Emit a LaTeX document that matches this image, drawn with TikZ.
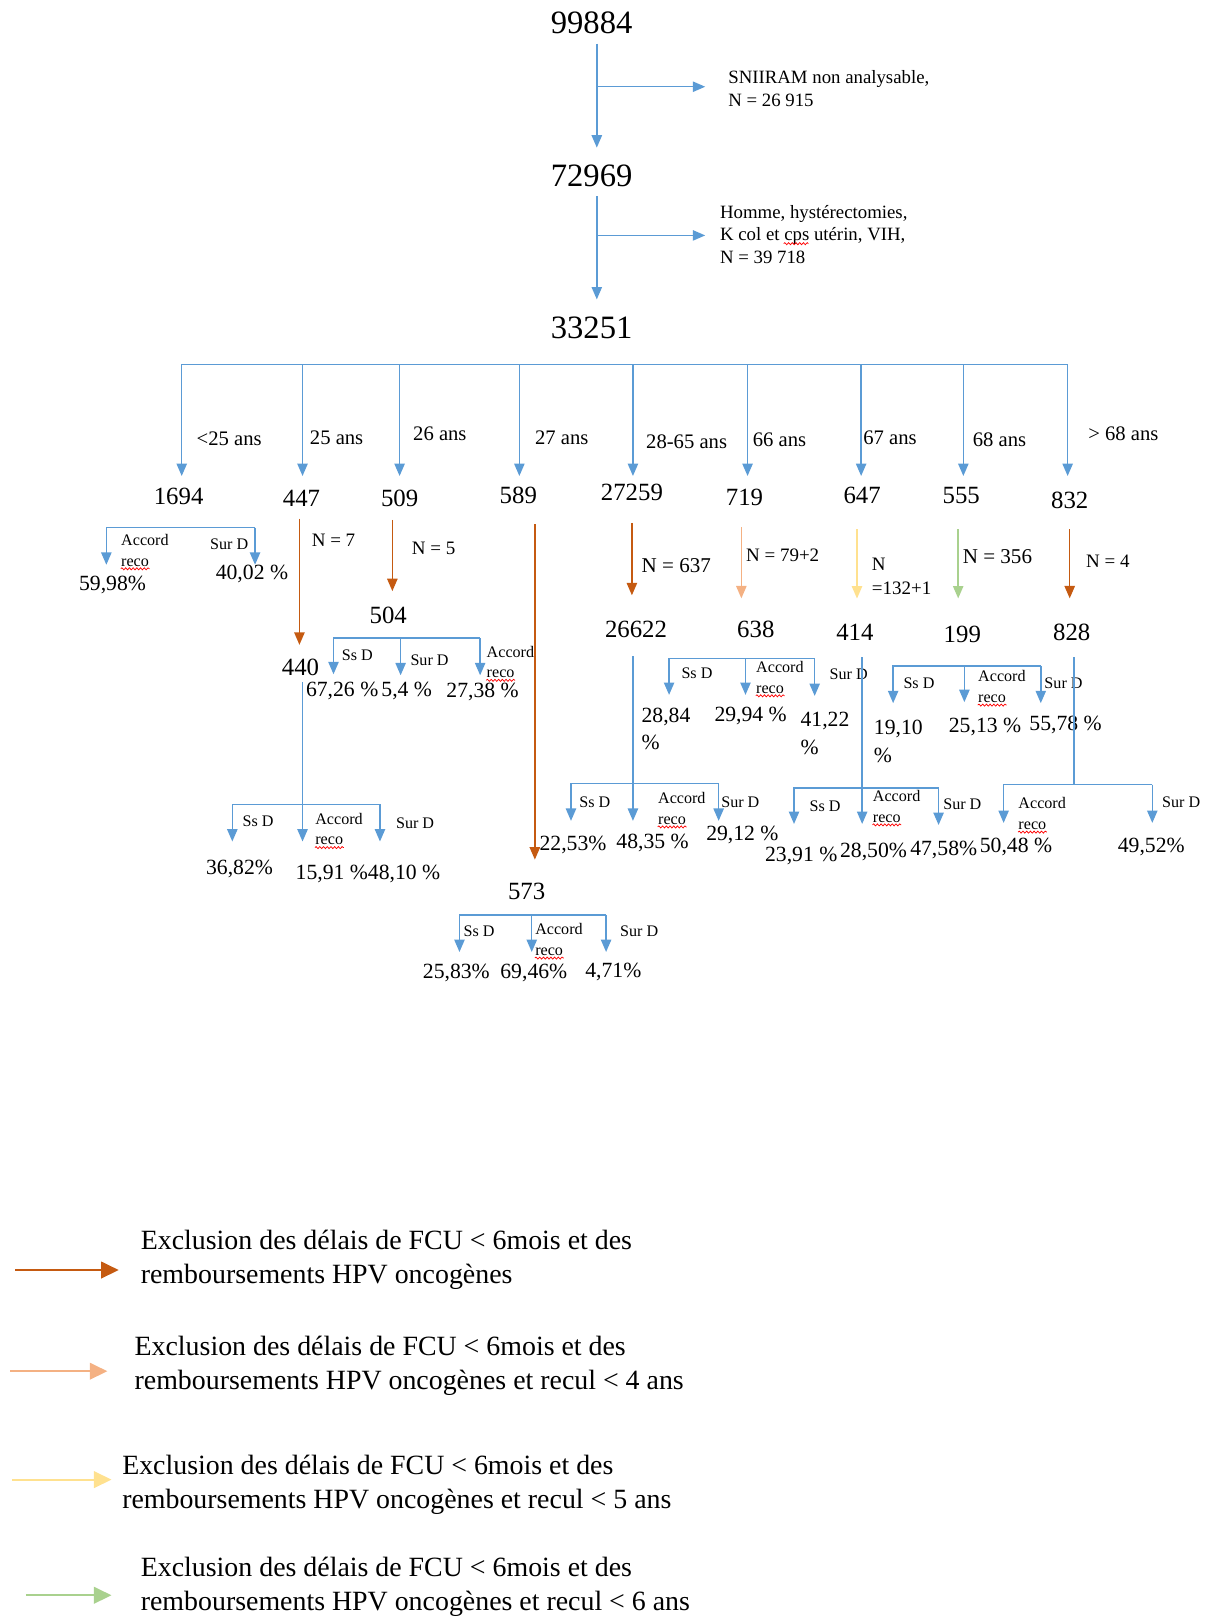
\documentclass[tikz,border=0pt]{standalone}
\usepackage{fontspec}
\setmainfont{Liberation Serif}
\usetikzlibrary{arrows.meta,decorations.pathmorphing}
\definecolor{cbl}{HTML}{5B9BD5}
\definecolor{cdor}{HTML}{C55A11}
\definecolor{clor}{HTML}{F4B183}
\definecolor{cyel}{HTML}{FFE18F}
\definecolor{cgrn}{HTML}{A9D18E}
\begin{document}
\begin{tikzpicture}[x=0.5pt,y=-0.5pt,
  every node/.style={inner sep=0pt},
  big/.style={font=\fontsize{15.8}{19}\selectfont},
  num/.style={font=\fontsize{12}{14}\selectfont},
  age/.style={font=\fontsize{10}{12}\selectfont},
  pct/.style={font=\fontsize{10.5}{13.5}\selectfont},
  sm/.style={font=\fontsize{7.8}{10}\selectfont},
  acc/.style={sm,align=left,anchor=west},
  nl/.style={font=\fontsize{9.2}{11.5}\selectfont},
  nlb/.style={font=\fontsize{10.2}{12.5}\selectfont},
  exc/.style={font=\fontsize{9.1}{11}\selectfont,align=left,anchor=west},
  leg/.style={font=\fontsize{13.5}{16.5}\selectfont,align=left,anchor=west},
  lnb/.style={draw=cbl,line width=0.7pt},
  tipa/.style={-{Triangle[width=5pt,length=6pt]}},
  arb/.style={lnb,tipa},
  aro/.style={draw=cdor,line width=0.7pt,tipa},
  arl/.style={draw=clor,line width=0.7pt,tipa},
  ary/.style={draw=cyel,line width=0.7pt,tipa},
  arg/.style={draw=cgrn,line width=0.7pt,tipa},
  lega/.style={line width=1pt,-{Triangle[width=8pt,length=8.5pt]}},
  wavy/.style={draw=red,line width=0.35pt,decorate,decoration={snake,amplitude=0.5pt,segment length=1.8pt}}
]
\useasboundingbox (0,0) rectangle (1170,1568);

% ---------- top ----------
\node[big] (n0) at (573,22) {99884};
\node[big] (n1) at (573,170) {72969};
\node[big] (n2) at (573,318) {33251};
\node[exc] (t0) at (705,86) {SNIIRAM non analysable,\\N = 26 915};
\node[exc] (t1) at (697,227) {Homme, hystérectomies,\\K col et cps utérin, VIH,\\N = 39 718};
\draw[wavy] ([shift={(62,9)}]t1.west) -- ++(24,0);
\draw[arb,shorten <=4.6pt,shorten >=8pt] ([xshift=2.5pt]n0.south) -- ([xshift=2.5pt]n1.north);
\draw[arb,shorten <=4.6pt,shorten >=8.5pt] ([xshift=2.5pt]n1.south) -- ([xshift=2.5pt]n2.north);
\coordinate (j0) at (578,84);
\coordinate (j1) at (578,228);
\draw[arb,shorten >=11pt] (j0) -- (j0 -| t0.west);
\draw[arb,shorten >=7pt] (j1) -- (j1 -| t1.west);

% ---------- age groups ----------
\node[age] (g1) at (222,425) {<25 ans};
\node[age] (g2) at (326,424) {25 ans};
\node[age] (g3) at (426,420) {26 ans};
\node[age] (g4) at (544,424) {27 ans};
\node[age] (g5) at (665,428) {28-65 ans};
\node[age] (g6) at (755,426) {66 ans};
\node[age] (g7) at (862,424) {67 ans};
\node[age] (g8) at (968,426) {68 ans};
\node[age] (g9) at (1088,420) {> 68 ans};

\node[num] (n1694) at (173,481) {1694};
\node[num] (n447) at (292,483) {447};
\node[num] (n509) at (387,483) {509};
\node[num] (n589) at (502,480) {589};
\node[num] (n27259) at (612,477) {27259};
\node[num] (n719) at (721,482) {719};
\node[num] (n647) at (835,480) {647};
\node[num] (n555) at (931,480) {555};
\node[num] (n832) at (1036,485) {832};

\coordinate (bar) at (0,353);
\coordinate (tip) at (0,461);
\draw[lnb] ([xshift=1.5pt]n1694.north |- bar) -- ([xshift=-1pt]n832.north |- bar);
\foreach \n/\s in {n1694/1.5,n447/0.5,n509/0,n589/0.5,n27259/0.5,n719/1.5,n647/-0.5,n555/1,n832/-1}
  \draw[arb] ([xshift=\s pt]\n.north |- bar) -- ([xshift=\s pt]\n.north |- tip);

% ---------- second level numbers ----------
\node[num] (n440) at (291,646) {440};
\node[num] (n504) at (376,596) {504};
\node[num] (n573) at (510,863) {573};
\node[num] (n26622) at (616,610) {26622};
\node[num] (n638) at (732,610) {638};
\node[num] (n414) at (828,612) {414};
\node[num] (n199) at (932,614) {199};
\node[num] (n828) at (1038,612) {828};

% ---------- 1694 ----------
\coordinate (k1L) at (103,511); \coordinate (k1R) at (247,511);
\draw[arb] (k1R) -- (k1L) -- ++(0,36);
\draw[arb] (k1R) -- ++(0,36);
\node[acc] (l1a) at (117,533) {Accord\\reco};
\node[sm] (l1b) at (222,527) {Sur D};
\node[pct] (p1a) at (109,567) {59,98\%};
\node[pct] (p1b) at (244,556) {40,02 \%};

% ---------- 447 -> 440 ----------
\draw[aro,shorten <=5.5pt,shorten >=6.5pt] ([xshift=-1pt]n447.south) -- ([xshift=-1pt]n447.south |- n440.north);
\node[nl] (m1) at (323,523) {N = 7};
\coordinate (k2L) at (225,779); \coordinate (k2R) at (368,779);
\draw[arb] (k2R) -- (k2L) -- ++(0,36);
\draw[arb] (k2R) -- ++(0,36);
\draw[arb,shorten <=3pt] ([xshift=1pt]n440.south) -- ([xshift=1pt]n440.south |- k2L) -- ++(0,36);
\node[sm] (l2a) at (250,795) {Ss D};
\node[acc] (l2b) at (305,803) {Accord\\reco};
\node[sm] (l2c) at (402,797) {Sur D};
\node[pct] (p2a) at (232,842) {36,82\%};
\node[pct,anchor=west] (p2b) at (286,846) {15,91 \%};
\node[pct,anchor=west] (p2c) at (356,846) {48,10 \%};

% ---------- 509 -> 504 ----------
\draw[aro,shorten <=6pt,shorten >=7.5pt] ([xshift=-3.5pt]n509.south) -- ([xshift=-3.5pt]n509.south |- n504.north);
\node[nl] (m2) at (420,531) {N = 5};
\coordinate (k3L) at (323,618); \coordinate (k3M) at (388,618); \coordinate (k3R) at (465,618);
\draw[arb] (k3R) -- (k3L) -- ++(0,35);
\draw[arb] (k3M) -- ++(0,36);
\draw[arb] (k3R) -- ++(0,36);
\node[sm] (l3a) at (346,635) {Ss D};
\node[sm] (l3b) at (416,639) {Sur D};
\node[acc] (l3c) at (471,641) {Accord\\reco};
\node[pct,anchor=west] (p3a) at (296,669) {67,26 \%};
\node[pct,anchor=west] (p3b) at (369,669) {5,4 \%};
\node[pct,anchor=west] (p3c) at (432,670) {27,38 \%};

% ---------- 589 -> 573 ----------
\coordinate (x589) at (518,0);
\draw[aro,shorten <=9.5pt,shorten >=11pt] (n589.south -| x589) -- (n573.north -| x589);
\coordinate (k4L) at (445,886); \coordinate (k4M) at (515,886); \coordinate (k4R) at (587,886);
\draw[arb] (k4R) -- (k4L) -- ++(0,36);
\draw[arb] (k4M) -- ++(0,36);
\draw[arb] (k4R) -- ++(0,36);
\node[sm] (l4a) at (464,902) {Ss D};
\node[acc] (l4b) at (518,910) {Accord\\reco};
\node[sm] (l4c) at (619,902) {Sur D};
\node[pct] (p4a) at (442,942) {25,83\%};
\node[pct] (p4b) at (517,942) {69,46\%};
\node[pct] (p4c) at (594,941) {4,71\%};

% ---------- 27259 -> 26622 ----------
\draw[aro,shorten <=10.5pt,shorten >=12.5pt] (n27259.south) -- (n27259.south |- n26622.north);
\node[nlb] (m4) at (655,548) {N = 637};
\coordinate (k5L) at (553,759); \coordinate (k5R) at (696,759);
\draw[arb] (k5R) -- (k5L) -- ++(0,36);
\draw[arb] (k5R) -- ++(0,36);
\draw[arb,shorten <=8.5pt] ([xshift=-1.5pt]n26622.south) -- ([xshift=-1.5pt]n26622.south |- k5L) -- ++(0,36);
\node[sm] (l5a) at (576,777) {Ss D};
\node[acc] (l5b) at (637,783) {Accord\\reco};
\node[sm] (l5c) at (717,777) {Sur D};
\node[pct] (p5a) at (555,818) {22,53\%};
\node[pct] (p5b) at (632,816) {48,35 \%};
\node[pct] (p5c) at (719,809) {29,12 \%};

% ---------- 719 -> 638 ----------
\draw[arl,shorten <=10pt,shorten >=11pt] ([xshift=-1.5pt]n719.south) -- ([xshift=-1.5pt]n719.south |- n638.north);
\node[nl] (m5) at (758,538) {N = 79+2};
\coordinate (k6L) at (648,638); \coordinate (k6M) at (722,638); \coordinate (k6R) at (789,638);
\draw[arb] (k6R) -- (k6L) -- ++(0,35);
\draw[arb] (k6M) -- ++(0,35);
\draw[arb] (k6R) -- ++(0,36);
\node[sm] (l6a) at (675,652) {Ss D};
\node[acc] (l6b) at (732,656) {Accord\\reco};
\node[sm] (l6c) at (822,653) {Sur D};
\node[pct,align=left,anchor=west] (p6a) at (621,706) {28,84\\\%};
\node[pct] (p6b) at (727,693) {29,94 \%};
\node[pct,align=left,anchor=west] (p6c) at (775,710) {41,22\\\%};

% ---------- 647 -> 414 ----------
\draw[ary,shorten <=12pt,shorten >=12pt] ([xshift=-2.5pt]n647.south) -- ([xshift=-2.5pt]n647.south |- n414.north);
\node[nl,align=left,anchor=west] (m6) at (844,558) {N\\=132+1};
\coordinate (k7L) at (769,763); \coordinate (k7R) at (909,763);
\draw[arb] (k7R) -- (k7L) -- ++(0,35);
\draw[arb] (k7R) -- ++(0,36);
\draw[arb,shorten <=8pt] ([xshift=3.5pt]n414.south) -- ([xshift=3.5pt]n414.south |- k7L) -- ++(0,35);
\node[sm] (l7a) at (799,781) {Ss D};
\node[acc] (l7b) at (845,781) {Accord\\reco};
\node[sm] (l7c) at (932,779) {Sur D};
\node[pct] (p7a) at (776,829) {23,91 \%};
\node[pct] (p7b) at (846,825) {28,50\%};
\node[pct] (p7c) at (914,823) {47,58\%};

% ---------- 555 -> 199 ----------
\draw[arg,shorten <=12pt,shorten >=13pt] ([xshift=-1.5pt]n555.south) -- ([xshift=-1.5pt]n555.south |- n199.north);
\node[nlb] (m7) at (966,539) {N = 356};
\coordinate (k8L) at (865,645); \coordinate (k8M) at (934,645); \coordinate (k8R) at (1008,645);
\draw[arb] (k8R) -- (k8L) -- ++(0,36);
\draw[arb] (k8M) -- ++(0,35);
\draw[arb] (k8R) -- ++(0,36);
\node[sm] (l8a) at (890,662) {Ss D};
\node[acc] (l8b) at (947,665) {Accord\\reco};
\node[sm] (l8c) at (1030,662) {Sur D};
\node[pct,align=left,anchor=west] (p8a) at (846,718) {19,10\\\%};
\node[pct] (p8b) at (954,704) {25,13 \%};
\node[pct] (p8c) at (1032,702) {55,78 \%};

% ---------- 832 -> 828 ----------
\draw[aro,shorten <=9.5pt,shorten >=12pt] (n832.south) -- (n832.south |- n828.north);
\node[nl] (m8) at (1073,544) {N = 4};
\coordinate (k9L) at (972,760); \coordinate (k9R) at (1116,760);
\draw[arb] (k9R) -- (k9L) -- ++(0,37);
\draw[arb] (k9R) -- ++(0,37);
\draw[lnb,shorten <=8pt] ([xshift=1pt]n828.south) -- ([xshift=1pt]n828.south |- k9L);
\node[acc] (l9a) at (986,788) {Accord\\reco};
\node[sm] (l9b) at (1144,777) {Sur D};
\node[pct] (p9a) at (984,820) {50,48 \%};
\node[pct] (p9b) at (1115,820) {49,52\%};

% spell-check underlines under "reco"
\foreach \w in {l1a,l2b,l3c,l4b,l5b,l6b,l7b,l8b,l9a}
  \draw[wavy] ([yshift=-1pt]\w.south west) -- ++(28,0);

% ---------- legend ----------
\node[leg] (e1) at (136,1220) {Exclusion des délais de FCU < 6mois et des\\remboursements HPV oncogènes};
\node[leg] (e2) at (130,1323) {Exclusion des délais de FCU < 6mois et des\\remboursements HPV oncogènes et recul < 4 ans};
\node[leg] (e3) at (118,1438) {Exclusion des délais de FCU < 6mois et des\\remboursements HPV oncogènes et recul < 5 ans};
\node[leg] (e4) at (136,1537) {Exclusion des délais de FCU < 6mois et des\\remboursements HPV oncogènes et recul < 6 ans};
\coordinate (e1a) at (15,1230);
\coordinate (e2a) at (10,1328);
\coordinate (e3a) at (12,1433);
\coordinate (e4a) at (25,1545);
\draw[lega,draw=cdor,shorten >=10.5pt] (e1a) -- (e1a -| e1.west);
\draw[lega,draw=clor,shorten >=13pt] (e2a) -- (e2a -| e2.west);
\draw[lega,draw=cyel,shorten >=5pt] (e3a) -- (e3a -| e3.west);
\draw[lega,draw=cgrn,shorten >=14pt] (e4a) -- (e4a -| e4.west);
\end{tikzpicture}
\end{document}
